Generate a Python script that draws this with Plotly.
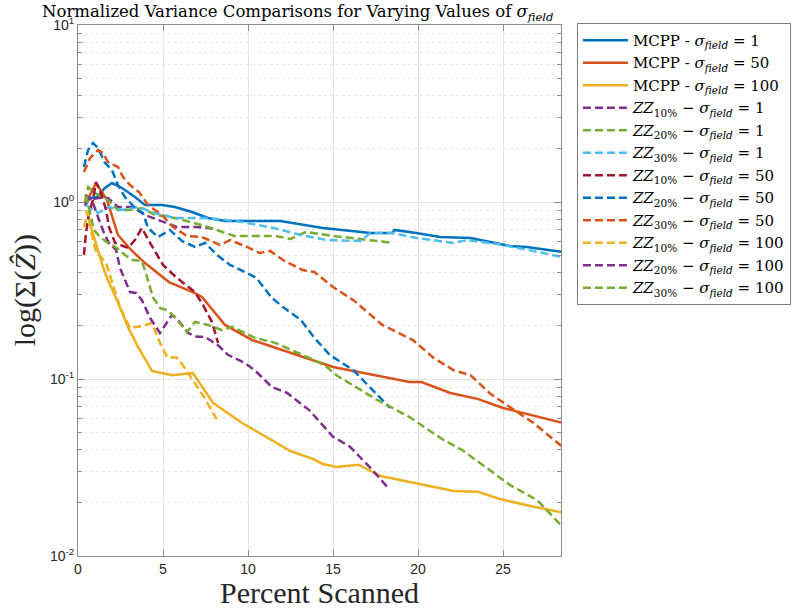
import plotly.graph_objects as go

# ---------------- data (x = percent scanned, y = normalized variance) ----------------
mcpp1_x = [0.41, 0.71, 1.12, 1.59, 2.0, 2.59, 3.35, 3.94, 4.94, 5.7, 6.7, 7.65, 8.65, 11.9, 14.4, 17.2, 18.5, 18.6, 19.9, 21.3, 23.1, 25.4, 26.4, 28.5]
mcpp1_y = [1.0, 1.053, 1.067, 1.2, 1.28, 1.2, 1.067, 0.962, 0.962, 0.937, 0.878, 0.812, 0.781, 0.781, 0.713, 0.668, 0.668, 0.695, 0.668, 0.634, 0.626, 0.564, 0.557, 0.522]

mcpp50_x = [0.41, 1.06, 1.71, 2.06, 2.35, 3.12, 3.94, 5.35, 6.88, 7.29, 8.65, 10.24, 12.0, 15.0, 19.5, 20.2, 21.9, 23.5, 25.0, 26.8, 28.5]
mcpp50_y = [0.96, 1.28, 1.026, 0.791, 0.651, 0.536, 0.452, 0.353, 0.306, 0.291, 0.202, 0.166, 0.146, 0.117, 0.0962, 0.0962, 0.0834, 0.0772, 0.0686, 0.0619, 0.0565]

mcpp100_x = [0.47, 0.65, 1.47, 1.76, 2.29, 2.94, 3.53, 4.35, 5.53, 6.76, 7.94, 9.65, 12.5, 13.8, 14.4, 15.2, 16.5, 17.8, 19.9, 22.1, 23.5, 24.8, 26.8, 28.5]
mcpp100_y = [0.901, 0.791, 0.429, 0.362, 0.279, 0.197, 0.152, 0.111, 0.105, 0.108, 0.0734, 0.0564, 0.0392, 0.0354, 0.0331, 0.0318, 0.0328, 0.0283, 0.0258, 0.0233, 0.0231, 0.021, 0.019, 0.0176]

zz10_s1_x = [0.4, 0.6, 1.18, 1.76, 2.35, 3.18, 3.94, 4.94, 5.82, 7.0, 8.18]
zz10_s1_y = [0.95, 1.026, 1.053, 1.053, 0.937, 0.937, 0.845, 0.781, 0.722, 0.722, 0.704]

zz20_s1_x = [0.4, 0.6, 1.0, 1.76, 2.35, 3.18, 3.76, 4.53, 5.7, 7.3, 8.5, 9.2, 11.6, 12.5, 13.4, 15.0, 16.6, 18.5]
zz20_s1_y = [1.0, 1.215, 1.124, 1.026, 0.901, 0.901, 0.925, 0.845, 0.812, 0.741, 0.677, 0.643, 0.643, 0.618, 0.677, 0.643, 0.618, 0.587]

zz30_s1_x = [0.47, 1.18, 1.76, 2.59, 3.53, 4.53, 5.7, 7.65, 9.65, 11.5, 13.1, 14.6, 16.6, 17.2, 18.5, 19.9, 22.1, 22.9, 25.0, 28.5]
zz30_s1_y = [0.962, 0.867, 0.937, 0.901, 0.937, 0.867, 0.812, 0.812, 0.771, 0.713, 0.651, 0.61, 0.602, 0.668, 0.668, 0.626, 0.587, 0.61, 0.572, 0.489]

zz10_s50_x = [0.35, 0.47, 0.65, 0.88, 1.06, 1.35, 1.65, 1.82, 2.18, 2.94, 3.35, 3.76, 4.24, 5.0, 5.82, 6.88, 7.35, 7.88, 8.24]
zz10_s50_y = [0.502, 0.668, 0.867, 1.026, 1.297, 1.124, 0.901, 0.722, 0.587, 0.55, 0.61, 0.713, 0.587, 0.441, 0.372, 0.31, 0.262, 0.21, 0.16]

zz20_s50_x = [0.35, 0.59, 0.88, 1.18, 1.59, 2.0, 2.35, 2.76, 3.41, 3.82, 4.12, 4.71, 5.41, 6.12, 6.88, 7.47, 8.18, 8.94, 9.94, 10.5, 11.4, 12.2, 13.1, 13.9, 14.8, 16.2, 18.35]
zz20_s50_y = [1.577, 1.967, 2.154, 2.018, 1.661, 1.516, 1.247, 1.067, 0.913, 0.867, 0.713, 0.634, 0.695, 0.602, 0.557, 0.587, 0.502, 0.441, 0.397, 0.372, 0.287, 0.249, 0.216, 0.171, 0.137, 0.112, 0.0687]

zz30_s50_x = [0.35, 0.71, 1.18, 1.47, 1.76, 2.35, 2.65, 3.06, 3.59, 4.12, 4.94, 5.59, 6.41, 7.29, 8.35, 8.94, 9.94, 10.7, 11.3, 12.06, 13.2, 13.9, 15.0, 16.2, 17.9, 19.7, 20.9, 22.1, 23.1, 24.2, 25.4, 26.8, 28.5]
zz30_s50_y = [1.477, 1.772, 1.967, 1.891, 1.683, 1.577, 1.384, 1.247, 1.139, 0.962, 0.845, 0.722, 0.643, 0.634, 0.572, 0.61, 0.557, 0.515, 0.529, 0.47, 0.413, 0.402, 0.331, 0.279, 0.202, 0.166, 0.132, 0.112, 0.105, 0.0834, 0.0694, 0.0564, 0.0413]

zz10_s100_x = [0.35, 0.59, 0.82, 1.06, 1.29, 1.65, 2.06, 2.47, 3.06, 3.76, 4.35, 4.82, 5.24, 5.82, 6.29, 6.76, 7.47, 8.24]
zz10_s100_y = [0.722, 0.878, 0.651, 0.522, 0.496, 0.452, 0.34, 0.255, 0.194, 0.199, 0.207, 0.16, 0.133, 0.132, 0.115, 0.0987, 0.0774, 0.0572]

zz20_s100_x = [0.41, 0.82, 1.24, 1.53, 1.82, 2.24, 2.47, 2.76, 3.06, 3.41, 3.76, 4.24, 4.82, 5.53, 5.88, 6.47, 7.0, 7.47, 8.24, 8.82, 9.82, 10.4, 11.4, 12.3, 13.6, 15.0, 16.0, 17.2, 18.2]
zz20_s100_y = [1.095, 1.026, 0.791, 0.668, 0.587, 0.536, 0.424, 0.362, 0.31, 0.306, 0.279, 0.221, 0.182, 0.23, 0.216, 0.182, 0.173, 0.173, 0.155, 0.137, 0.123, 0.112, 0.0902, 0.0834, 0.0667, 0.0472, 0.0414, 0.0315, 0.0245]

zz30_s100_x = [0.47, 0.76, 0.94, 1.24, 1.76, 2.29, 2.76, 3.24, 3.76, 4.06, 4.41, 4.82, 5.24, 5.71, 6.41, 6.88, 7.65, 8.47, 9.06, 10.4, 11.6, 13.2, 14.5, 15.2, 17.6, 19.5, 21.5, 22.6, 24.2, 25.4, 27.0, 28.5]
zz30_s100_y = [1.095, 0.823, 0.695, 0.643, 0.587, 0.55, 0.502, 0.47, 0.464, 0.377, 0.29, 0.252, 0.245, 0.224, 0.184, 0.21, 0.202, 0.189, 0.197, 0.171, 0.16, 0.137, 0.12, 0.105, 0.0761, 0.061, 0.0452, 0.0397, 0.0306, 0.0252, 0.0207, 0.0146]

y_tickvals = [0.01, 0.1, 1, 10]
y_ticktext = ["10<sup>-2</sup>", "10<sup>-1</sup>", "10<sup>0</sup>", "10<sup>1</sup>"]
x_tickvals = [0, 5, 10, 15, 20, 25]

SIG = "<i>σ<sub>field</sub></i>"
series = [
    ("MCPP - " + SIG + " = 1", mcpp1_x, mcpp1_y, "#0072BD", "solid"),
    ("MCPP - " + SIG + " = 50", mcpp50_x, mcpp50_y, "#D95319", "solid"),
    ("MCPP - " + SIG + " = 100", mcpp100_x, mcpp100_y, "#EDB120", "solid"),
    ("<i>ZZ</i><sub>10%</sub> − " + SIG + " = 1", zz10_s1_x, zz10_s1_y, "#7E2F8E", "dash"),
    ("<i>ZZ</i><sub>20%</sub> − " + SIG + " = 1", zz20_s1_x, zz20_s1_y, "#77AC30", "dash"),
    ("<i>ZZ</i><sub>30%</sub> − " + SIG + " = 1", zz30_s1_x, zz30_s1_y, "#4DBEEE", "dash"),
    ("<i>ZZ</i><sub>10%</sub> − " + SIG + " = 50", zz10_s50_x, zz10_s50_y, "#A2142F", "dash"),
    ("<i>ZZ</i><sub>20%</sub> − " + SIG + " = 50", zz20_s50_x, zz20_s50_y, "#0072BD", "dash"),
    ("<i>ZZ</i><sub>30%</sub> − " + SIG + " = 50", zz30_s50_x, zz30_s50_y, "#D95319", "dash"),
    ("<i>ZZ</i><sub>10%</sub> − " + SIG + " = 100", zz10_s100_x, zz10_s100_y, "#EDB120", "dash"),
    ("<i>ZZ</i><sub>20%</sub> − " + SIG + " = 100", zz20_s100_x, zz20_s100_y, "#7E2F8E", "dash"),
    ("<i>ZZ</i><sub>30%</sub> − " + SIG + " = 100", zz30_s100_x, zz30_s100_y, "#77AC30", "dash"),
]

fig = go.Figure()
for name, xs, ys, color, style in series:
    fig.add_trace(go.Scatter(
        x=xs, y=ys, mode="lines", name=name,
        line=dict(color=color, width=2.5, dash=("8px,4px" if style == "dash" else "solid")),
    ))

SERIF = "Liberation Serif, DejaVu Serif, serif"
WSERIF = "DejaVu Serif, serif"
SANS = "Liberation Sans, Arial, sans-serif"
AX = "#8c8c8c"

minor_vals = [m * 10 ** e for e in (-2, -1, 0) for m in range(2, 10)]

fig.update_layout(
    width=801, height=608,
    margin=dict(l=78, r=240, t=25, b=52, autoexpand=False),
    paper_bgcolor="white", plot_bgcolor="white",
    title=dict(text="Normalized Variance Comparisons for Varying Values of " + SIG,
               x=0.455, xref="paper", xanchor="center", y=0.981, yref="container", yanchor="middle",
               font=dict(family=WSERIF, size=16.5, color="black")),
    legend=dict(x=1.033, xanchor="left", y=1.004, yanchor="top",
                bordercolor="#7a7a7a", borderwidth=1, bgcolor="white",
                font=dict(family=WSERIF, size=15, color="black"),
                itemwidth=45, tracegroupgap=0),
    showlegend=True,
    annotations=[
        dict(text="Percent Scanned", xref="paper", yref="paper", x=0.5, y=-0.069,
             xanchor="center", yanchor="middle", showarrow=False,
             font=dict(family=SERIF, size=30, color="#262626")),
        dict(text="log(Σ(<i>Ẑ</i>))", xref="paper", yref="paper", x=-0.11, y=0.5,
             xanchor="center", yanchor="middle", showarrow=False, textangle=-90,
             font=dict(family=SERIF, size=30, color="#262626")),
    ],
)
fig.update_xaxes(
    range=[0, 28.41], tickvals=x_tickvals, ticks="inside", ticklen=6, tickcolor=AX,
    showline=True, linecolor=AX, linewidth=1, mirror="ticks", automargin=False,
    showgrid=True, gridcolor="#e3e3e3", zeroline=False,
    tickfont=dict(family=SANS, size=14, color="#262626"),
)
fig.update_yaxes(
    type="log", range=[-2, 1], tickvals=y_tickvals, ticktext=y_ticktext,
    ticks="inside", ticklen=7, tickcolor=AX, automargin=False,
    showline=True, linecolor=AX, linewidth=1, mirror="ticks",
    showgrid=True, gridcolor="#e3e3e3", zeroline=False,
    minor=dict(tickvals=minor_vals, ticks="inside", ticklen=4, tickcolor=AX,
               showgrid=True, griddash="dot", gridcolor="#e6e6e6"),
    tickfont=dict(family=SANS, size=14, color="#262626"),
)

fig.write_html("out.html", config={"displayModeBar": False},
               post_script="document.body.style.margin='0px';document.body.style.padding='0px';")
